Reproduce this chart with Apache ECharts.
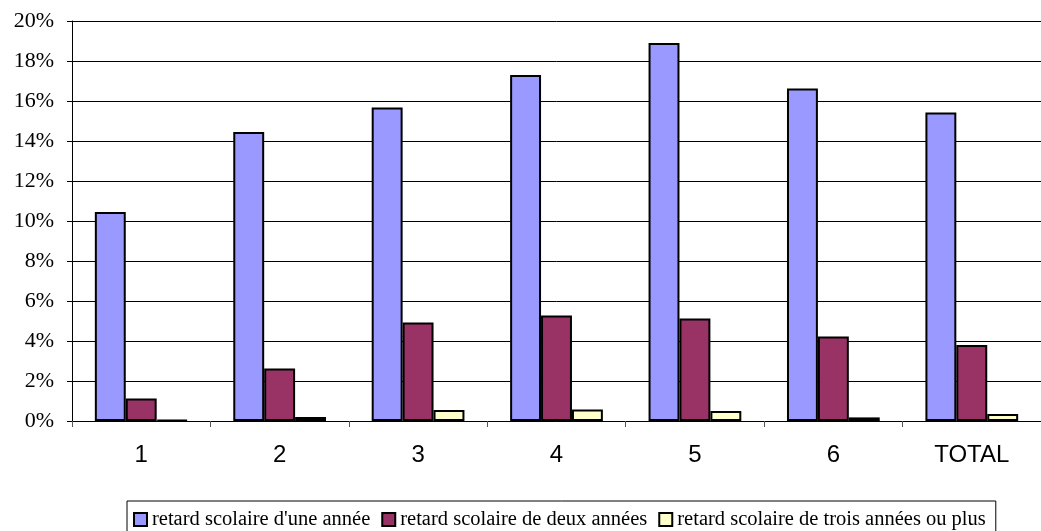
<!DOCTYPE html>
<html>
<head>
<meta charset="utf-8">
<script src="https://cdn.jsdelivr.net/npm/echarts@6/dist/echarts.min.js"></script>
<style>html,body{margin:0;padding:0;background:#fff;}#c{width:1041px;height:531px;}</style>
</head>
<body>
<div id="c"></div>
<script>
const categories = ['1', '2', '3', '4', '5', '6', 'TOTAL'];
const seriesNames = ["retard scolaire d'une année", "retard scolaire de deux années", "retard scolaire de trois années ou plus"];
const unAn = [10.45, 14.45, 15.67, 17.3, 18.9, 16.63, 15.42];
const deuxAns = [1.13, 2.63, 4.92, 5.27, 5.13, 4.22, 3.8];
const troisAns = [0.05, 0.2, 0.55, 0.58, 0.5, 0.18, 0.35];
const colors = ['#9999FF', '#993366', '#FFFFCC'];

const chart = echarts.init(document.getElementById('c'), null, {renderer: 'canvas'});
const mk = (name, data, color) => ({
  name, type: 'bar', data,
  barGap: '0%', barCategoryGap: '33%',
  itemStyle: {color, borderColor: '#000', borderWidth: 2},
  emphasis: {disabled: true}
});
chart.setOption({
  animation: false,
  backgroundColor: '#fff',
  grid: {left: 72, top: 21, width: 982, height: 400, containLabel: false},
  legend: {
    left: 127, top: 501,
    orient: 'horizontal',
    borderColor: '#000', borderWidth: 1,
    padding: [8, 10, 8, 6],
    itemGap: 11, itemWidth: 13, itemHeight: 13,
    icon: 'rect',
    textStyle: {fontFamily: 'Liberation Serif', fontSize: 20.5, color: '#000'},
    data: seriesNames
  },
  xAxis: {
    type: 'category', data: categories,
    axisLine: {lineStyle: {color: '#000', width: 1}},
    axisTick: {show: true, length: 6, lineStyle: {color: '#555'}},
    axisLabel: {fontFamily: 'Liberation Sans', fontSize: 24, color: '#000', margin: 22}
  },
  yAxis: {
    type: 'value', min: 0, max: 20, interval: 2,
    axisLine: {show: true, lineStyle: {color: '#000', width: 1}},
    axisTick: {show: true, length: 5, lineStyle: {color: '#000'}},
    splitLine: {show: true, lineStyle: {color: '#000', width: 1}},
    axisLabel: {formatter: '{value}%', fontFamily: 'Liberation Serif', fontSize: 22, color: '#000', margin: 18}
  },
  series: [
    mk(seriesNames[0], unAn, colors[0]),
    mk(seriesNames[1], deuxAns, colors[1]),
    mk(seriesNames[2], troisAns, colors[2])
  ]
});
</script>
</body>
</html>
